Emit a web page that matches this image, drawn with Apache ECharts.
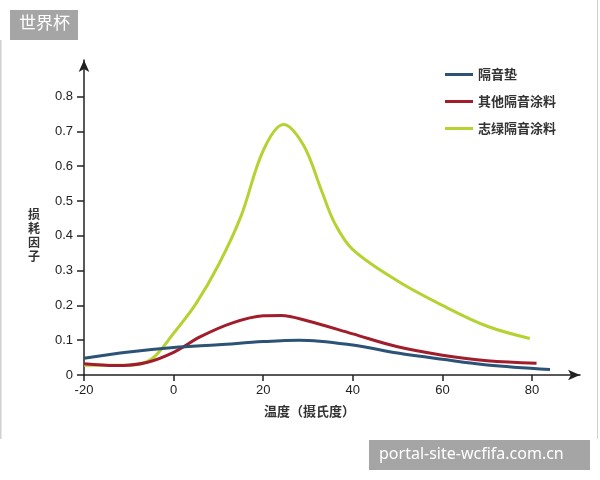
<!DOCTYPE html>
<html lang="zh">
<head>
    <meta charset="UTF-8">
    <title>损耗因子</title>
    <script src="https://cdn.jsdelivr.net/npm/echarts@6/dist/echarts.min.js"></script>
    <style>
      html, body { margin: 0; padding: 0; background: #fff; }
    </style>
</head>
<body>

    <div id="main" style="width: 600px;height:480px;"></div>

    <script type="text/javascript">

      // tick labels
      var xTicks = [-20, 0, 20, 40, 60, 80]
      var yTicks = [0, 0.1, 0.2, 0.3, 0.4, 0.5, 0.6, 0.7, 0.8]

      // series names
      var names = ['隔音垫', '其他隔音涂料', '志绿隔音涂料']

      // 隔音垫
      var padTemp = [-20, -10, 0, 10, 20, 28, 40, 50, 60, 70, 84]
      var padLoss = [0.048, 0.066, 0.079, 0.087, 0.096, 0.1, 0.086, 0.063, 0.045, 0.029, 0.016]

      // 其他隔音涂料
      var otherTemp = [-20, -13, -6, 0, 6, 13, 20, 24, 30, 40, 50, 60, 70, 81]
      var otherLoss = [0.032, 0.027, 0.036, 0.065, 0.11, 0.149, 0.17, 0.171, 0.155, 0.118, 0.081, 0.057, 0.041, 0.034]

      // 志绿隔音涂料
      var greenTemp = [-20, -10, -5, 0, 5, 10, 15, 20, 24.5, 29, 33, 36, 40, 50, 60, 70, 79.5]
      var greenLoss = [0.028, 0.028, 0.045, 0.12, 0.205, 0.316, 0.455, 0.645, 0.72, 0.66, 0.53, 0.435, 0.36, 0.27, 0.2, 0.14, 0.105]

      var colors = ['#2c5276', '#a11d2b', '#b4d333']

      function pairs(xs, ys) {
        return xs.map(function (x, i) { return [x, ys[i]] })
      }

      var myChart = echarts.init(document.getElementById('main'));

      var option = {
        animation: false,
        grid: { left: 84, top: 60, right: 20, bottom: 105 },
        legend: {
          data: names,
          orient: 'vertical',
          left: 440,
          top: 63,
          icon: 'rect',
          itemWidth: 28,
          itemHeight: 3,
          itemGap: 14,
          textStyle: { fontSize: 13, color: '#333', fontWeight: 'bold', fontFamily: 'Noto Sans CJK SC' }
        },
        xAxis: {
          type: 'value',
          min: -20,
          max: 90.7,
          axisLine: {
            onZero: false,
            symbol: ['none', 'arrow'],
            symbolSize: [8, 12],
            lineStyle: { color: '#222', width: 1.5 }
          },
          axisTick: { customValues: xTicks, length: 6, lineStyle: { color: '#222', width: 1.5 } },
          axisLabel: {
            customValues: xTicks,
            fontSize: 13,
            color: '#222',
            fontFamily: 'Liberation Sans',
            margin: 9
          },
          splitLine: { show: false }
        },
        yAxis: {
          type: 'value',
          min: 0,
          max: 0.905,
          axisLine: {
            show: true,
            onZero: false,
            symbol: ['none', 'arrow'],
            symbolSize: [8, 12],
            lineStyle: { color: '#222', width: 1.5 }
          },
          axisTick: { show: true, customValues: yTicks, length: 7, lineStyle: { color: '#222', width: 1.5 } },
          axisLabel: {
            customValues: yTicks,
            fontSize: 13,
            color: '#222',
            fontFamily: 'Liberation Sans',
            margin: 11,
            formatter: function (v) { return v === 0 ? '0' : v.toFixed(1) }
          },
          splitLine: { show: false }
        },
        graphic: [
          { type: 'line', shape: { x1: 0.5, y1: 40, x2: 0.5, y2: 439 }, style: { stroke: '#d0d0d0', lineWidth: 2 } },
          { type: 'line', shape: { x1: 597.5, y1: 0, x2: 597.5, y2: 439 }, style: { stroke: '#d0d0d0', lineWidth: 1 } },
          {
            type: 'text', left: 28, top: 207,
            style: { text: '损\n耗\n因\n子', fontSize: 12, lineHeight: 14, fill: '#333', fontWeight: 'bold', fontFamily: 'Noto Sans CJK SC' }
          },
          {
            type: 'text', left: 264, top: 405,
            style: { text: '温度（摄氏度）', fontSize: 13, fill: '#333', fontWeight: 'bold', fontFamily: 'Noto Sans CJK SC' }
          },
          { type: 'rect', shape: { x: 10, y: 10, width: 68, height: 30 }, style: { fill: '#a5a5a5' } },
          {
            type: 'text', left: 19, top: 14,
            style: { text: '世界杯', fontSize: 17, fill: '#fff', fontFamily: 'Noto Sans CJK SC' }
          },
          { type: 'rect', shape: { x: 369, y: 440, width: 221, height: 30 }, style: { fill: '#a5a5a5' } },
          {
            type: 'text', left: 379, top: 446,
            style: { text: 'portal-site-wcfifa.com.cn', fontSize: 16, fill: '#fff', fontFamily: 'Noto Sans' }
          }
        ],
        series: [
          {
            name: names[2], type: 'line', smooth: 0.35, showSymbol: false, z: 2,
            data: pairs(greenTemp, greenLoss),
            itemStyle: { color: colors[2] },
            lineStyle: { color: colors[2], width: 3 }
          },
          {
            name: names[1], type: 'line', smooth: 0.35, showSymbol: false, z: 3,
            data: pairs(otherTemp, otherLoss),
            itemStyle: { color: colors[1] },
            lineStyle: { color: colors[1], width: 3 }
          },
          {
            name: names[0], type: 'line', smooth: 0.35, showSymbol: false, z: 4,
            data: pairs(padTemp, padLoss),
            itemStyle: { color: colors[0] },
            lineStyle: { color: colors[0], width: 3 }
          }
        ]
      };

      myChart.setOption(option);

    </script>
  </body>
</html>
